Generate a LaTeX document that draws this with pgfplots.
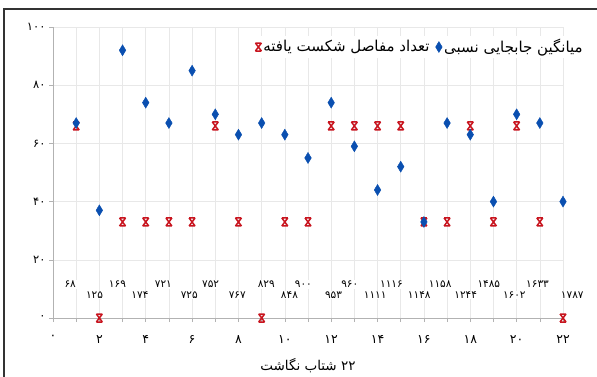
\documentclass[border=0pt]{standalone}
\usepackage{pgfplots}
\pgfplotsset{compat=1.18}
\usepackage{fontspec}
\setmainfont{DejaVu Sans}
\newfontfamily\fa[Script=Arabic]{DejaVu Sans}
\TeXXeTstate=1
\definecolor{mblue}{HTML}{0A4FB0}
\definecolor{mred}{HTML}{C8141E}
\pgfdeclareplotmark{xcap}{%
  \pgfpathmoveto{\pgfqpoint{-0.75\pgfplotmarksize}{\pgfplotmarksize}}%
  \pgfpathlineto{\pgfqpoint{0.75\pgfplotmarksize}{-\pgfplotmarksize}}%
  \pgfpathmoveto{\pgfqpoint{0.75\pgfplotmarksize}{\pgfplotmarksize}}%
  \pgfpathlineto{\pgfqpoint{-0.75\pgfplotmarksize}{-\pgfplotmarksize}}%
  \pgfpathmoveto{\pgfqpoint{-0.75\pgfplotmarksize}{\pgfplotmarksize}}%
  \pgfpathlineto{\pgfqpoint{0.75\pgfplotmarksize}{\pgfplotmarksize}}%
  \pgfpathmoveto{\pgfqpoint{-0.75\pgfplotmarksize}{-\pgfplotmarksize}}%
  \pgfpathlineto{\pgfqpoint{0.75\pgfplotmarksize}{-\pgfplotmarksize}}%
  \pgfusepathqstroke}
\begin{document}
\begin{tikzpicture}[x=1pt,y=1pt]
\useasboundingbox (0,0) rectangle (597,376);
\begin{axis}[
  at={(53pt,58pt)}, anchor=south west,
  scale only axis, width=510pt, height=291pt,
  xmin=0, xmax=22, ymin=0, ymax=100,
  clip=false,
  axis x line=bottom, axis y line=left,
  axis line style={-, draw=gray!60, line width=0.8pt},
  xtick={0,2,...,22}, minor xtick={1,3,...,21},
  ytick={0,20,...,100},
  xticklabels={۰,۲,۴,۶,۸,۱۰,۱۲,۱۴,۱۶,۱۸,۲۰,۲۲},
  yticklabels={۰,۲۰,۴۰,۶۰,۸۰,۱۰۰},
  tick align=outside, major tick length=4pt, minor tick length=4pt,
  tick style={gray!60, line width=0.6pt},
  xmajorgrids, xminorgrids, ymajorgrids,
  major grid style={gray!18, line width=0.6pt},
  minor grid style={gray!18, line width=0.6pt},
  yticklabel style={font=\fa\fontsize{11.5}{11.5}\selectfont, text=black},
  xticklabel style={font=\fa\fontsize{12.5}{12.5}\selectfont, text=black, yshift=-10pt},
  xlabel={\fa\fontsize{13.5}{13.5}\selectfont\beginR ۲۲ شتاب نگاشت\endR},
  xlabel style={yshift=-8pt},
  legend style={at={(1,1)}, anchor=east, xshift=24pt, yshift=-20pt, draw=none, fill=white,
    font=\fa\fontsize{15}{15}\selectfont, inner sep=2pt,
    /tikz/every even column/.append style={column sep=4pt}},
  legend columns=2,
  legend cell align=left,
]
\addplot[only marks, mark=xcap, mark size=4pt, mred, line width=1.5pt]
 coordinates {(1,66)(2,0)(3,33)(4,33)(5,33)(6,33)(7,66)(8,33)(9,0)(10,33)(11,33)
 (12,66)(13,66)(14,66)(15,66)(16,33)(17,33)(18,66)(19,33)(20,66)(21,33)(22,0)};
\addlegendentry{\beginR تعداد مفاصل شکست یافته\endR}
\addplot[only marks, mark=diamond*, mark size=5.5pt, mark options={xscale=0.8}, mblue, draw=mblue, fill=mblue]
 coordinates {(1,67)(2,37)(3,92)(4,74)(5,67)(6,85)(7,70)(8,63)(9,67)(10,63)(11,55)
 (12,74)(13,59)(14,44)(15,52)(16,33)(17,67)(18,63)(19,40)(20,70)(21,67)(22,40)};
\addlegendentry{\beginR میانگین جابجایی نسبی\endR}
\addplot[only marks, mark=none, forget plot, point meta=explicit symbolic,
  nodes near coords, nodes near coords style={anchor=center, fill=white, inner sep=1pt,
  font=\fa\fontsize{10.5}{10.5}\selectfont, text=black}]
 coordinates {
 (0.74,11.6)[۶۸] (1.79,7.9)[۱۲۵] (2.78,11.6)[۱۶۹] (3.75,7.9)[۱۷۴]
 (4.76,11.6)[۷۲۱] (5.88,7.9)[۷۲۵] (6.8,11.6)[۷۵۲] (7.95,7.9)[۷۶۷]
 (9.2,11.6)[۸۲۹] (10.2,7.9)[۸۴۸] (10.8,11.6)[۹۰۰] (12.1,7.9)[۹۵۳]
 (12.8,11.6)[۹۶۰] (13.9,7.9)[۱۱۱۱] (14.6,11.6)[۱۱۱۶] (15.8,7.9)[۱۱۴۸]
 (16.7,11.6)[۱۱۵۸] (17.8,7.9)[۱۲۴۴] (18.8,11.6)[۱۴۸۵] (19.9,7.9)[۱۶۰۲]
 (20.9,11.6)[۱۶۳۳] (22.4,7.9)[۱۷۸۷]};
\end{axis}
\draw[line width=2pt, draw=black!80] (4,-20) rectangle (640,367);
\end{tikzpicture}
\end{document}
